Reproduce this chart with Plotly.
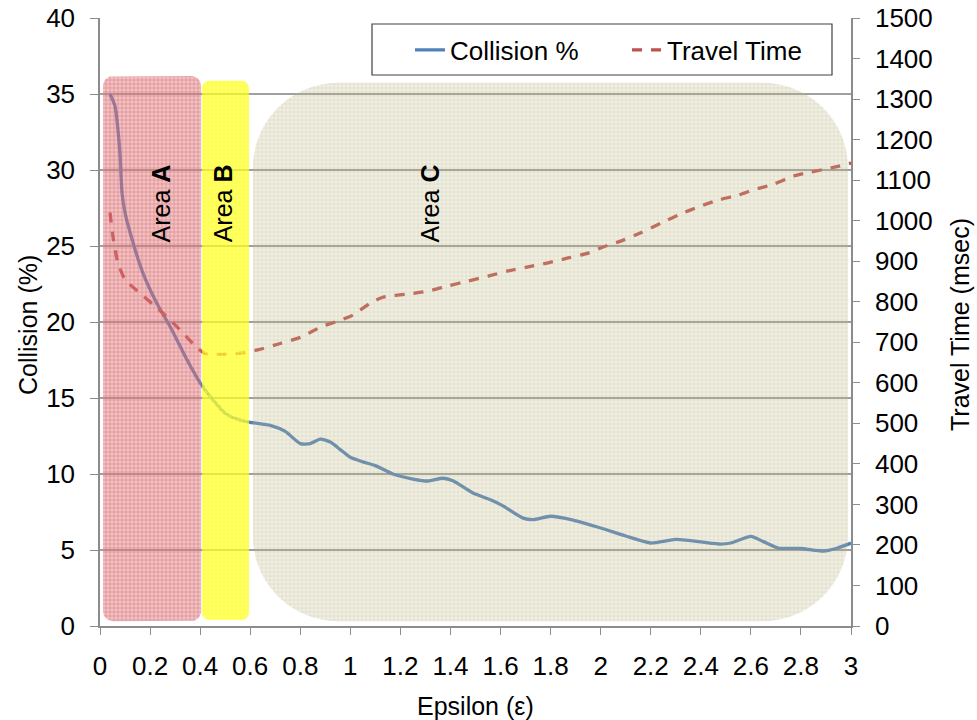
import numpy as np
import plotly.graph_objects as go

# ---------------- data ----------------
eps_collision = [0.04, 0.06, 0.072, 0.08, 0.088, 0.1, 0.12, 0.172, 0.228, 0.28, 0.348, 0.4,
                 0.45, 0.5, 0.55, 0.6, 0.68, 0.74, 0.8, 0.84, 0.88, 0.92, 0.96, 1.0, 1.05,
                 1.1, 1.17, 1.25, 1.31, 1.37, 1.41, 1.49, 1.56, 1.61, 1.69, 1.73, 1.8, 1.89,
                 2.0, 2.1, 2.2, 2.3, 2.4, 2.48, 2.52, 2.6, 2.65, 2.71, 2.8, 2.89, 2.94, 3.0]
collision = [35.0, 34.2, 32.6, 31.0, 28.5, 27.2, 25.9, 23.2, 21.2, 19.7, 17.5, 16.0,
             14.9, 14.0, 13.6, 13.4, 13.2, 12.8, 12.0, 12.0, 12.3, 12.1, 11.6, 11.1, 10.8,
             10.55, 10.0, 9.67, 9.54, 9.72, 9.55, 8.75, 8.3, 7.9, 7.1, 7.0, 7.22, 6.97,
             6.45, 5.92, 5.46, 5.7, 5.53, 5.39, 5.46, 5.9, 5.55, 5.13, 5.1, 4.93, 5.1, 5.45]

eps_travel = [0.04, 0.052, 0.072, 0.1, 0.165, 0.228, 0.308, 0.388, 0.42, 0.47, 0.56, 0.63,
              0.72, 0.8, 0.89, 0.95, 1.01, 1.08, 1.13, 1.23, 1.31, 1.39, 1.47, 1.55, 1.63,
              1.71, 1.79, 1.87, 1.95, 2.01, 2.09, 2.16, 2.24, 2.31, 2.39, 2.47, 2.55, 2.61,
              2.69, 2.77, 2.84, 2.92, 3.0]
travel_time = [1020, 960, 895, 855, 818, 785, 738, 686, 672, 670, 673, 681,
               697, 712, 740, 752, 767, 797, 811, 819, 826, 839, 851, 863, 876,
               886, 896, 908, 920, 935, 952, 970, 994, 1014, 1034, 1051, 1063, 1076,
               1090, 1110, 1120, 1130, 1142]

x_tick_vals = [0, 0.2, 0.4, 0.6, 0.8, 1, 1.2, 1.4, 1.6, 1.8, 2, 2.2, 2.4, 2.6, 2.8, 3]
x_tick_text = ["0", "0.2", "0.4", "0.6", "0.8", "1", "1.2", "1.4", "1.6", "1.8", "2",
               "2.2", "2.4", "2.6", "2.8", "3"]

# shaded regions: name, x-start, x-end (epsilon), bottom/top (msec axis)
area_names = ["A", "B", "C"]
area_x0 = [0.012, 0.408, 0.611]
area_x1 = [0.404, 0.595, 2.988]
area_y0 = [12, 15, 12]
area_y1 = [1357, 1345, 1340]
area_label_x = [0.244, 0.495, 1.318]
area_label_y = [27.8, 27.8, 27.8]

# ---------------- layout geometry ----------------
W, H = 977, 720
ML, MR, MT, MB = 100, 126, 18, 94
PW, PH = W - ML - MR, H - MT - MB
SX = PW / 3.0          # px per epsilon unit
SY2 = PH / 1500.0      # px per msec

FONT = "Liberation Sans, Arial, sans-serif"
FS = 26
radii = [10, 7, 85]
area_bg = ["rgba(225,125,130,0.48)", "rgba(255,255,0,0.72)", "rgba(195,186,140,0.24)"]
area_fg = ["rgba(195,55,65,0.42)", "rgba(255,255,200,0.55)", "rgba(165,155,100,0.28)"]


def rounded_rect(x0, x1, y0, y1, r):
    rx, ry = r / SX, r / SY2
    xs, ys = [], []
    corners = [(x1 - rx, y1 - ry, 0, 90), (x0 + rx, y1 - ry, 90, 180),
               (x0 + rx, y0 + ry, 180, 270), (x1 - rx, y0 + ry, 270, 360)]
    for cx, cy, a0, a1 in corners:
        t = np.radians(np.linspace(a0, a1, 16))
        xs.extend(cx + rx * np.cos(t))
        ys.extend(cy + ry * np.sin(t))
    xs.append(xs[0])
    ys.append(ys[0])
    return xs, ys


def px_x(px):
    return (px - ML) / PW


def px_y(py):
    return (H - MB - py) / PH


fig = go.Figure()

fig.add_trace(go.Scatter(
    x=eps_collision, y=collision, name="Collision %", mode="lines",
    line=dict(color="#4F81BD", width=3.3, shape="spline", smoothing=0.6),
    yaxis="y"))
fig.add_trace(go.Scatter(
    x=eps_travel, y=travel_time, name="Travel Time", mode="lines",
    line=dict(color="#C0504D", width=3.3, dash="10px,9px", shape="spline", smoothing=0.6),
    yaxis="y2"))

for i, nm in enumerate(area_names):
    xs, ys = rounded_rect(area_x0[i], area_x1[i], area_y0[i], area_y1[i], radii[i])
    fig.add_trace(go.Scatter(
        x=xs, y=ys, mode="lines", fill="toself", line=dict(width=0),
        fillcolor=area_bg[i],
        fillpattern=dict(shape="+", size=4, solidity=0.3, fgcolor=area_fg[i],
                         bgcolor=area_bg[i], fillmode="replace"),
        hoverinfo="skip", showlegend=False, yaxis="y2"))

annotations = []
for i, nm in enumerate(area_names):
    annotations.append(dict(
        x=area_label_x[i], y=area_label_y[i], xref="x", yref="y",
        xanchor="center", yanchor="middle",
        text="Area <b>%s</b>" % nm, textangle=-90, showarrow=False,
        font=dict(family=FONT, size=25, color="black")))

annotations += [
    dict(x=px_x(28), y=px_y(325), xref="paper", yref="paper",
         xanchor="center", yanchor="middle",
         text="Collision (%)", textangle=-90, showarrow=False,
         font=dict(family=FONT, size=25, color="black")),
    dict(x=px_x(960), y=px_y(325), xref="paper", yref="paper",
         xanchor="center", yanchor="middle",
         text="Travel Time (msec)", textangle=-90, showarrow=False,
         font=dict(family=FONT, size=25, color="black")),
    dict(x=px_x(475), y=px_y(706), xref="paper", yref="paper",
         xanchor="center", yanchor="middle",
         text="Epsilon (ε)", showarrow=False,
         font=dict(family=FONT, size=25, color="black")),
]

legend_box = dict(type="rect", xref="paper", yref="paper",
                  x0=px_x(372), x1=px_x(832), y0=px_y(75), y1=px_y(24),
                  fillcolor="white", line=dict(color="#404040", width=1.2),
                  layer="above")

axis_col = "#8C8C8C"
fig.update_layout(
    width=W, height=H, autosize=False,
    margin=dict(l=ML, r=MR, t=MT, b=MB, pad=0, autoexpand=False),
    paper_bgcolor="white", plot_bgcolor="white",
    font=dict(family=FONT, size=FS, color="black"),
    xaxis=dict(range=[0, 3], tickvals=x_tick_vals, ticktext=x_tick_text,
               showgrid=False, zeroline=False, showline=True, linecolor=axis_col,
               linewidth=1.5, ticks="outside", ticklen=7, tickcolor=axis_col,
               ticklabelstandoff=9, tickfont=dict(size=FS), automargin=False),
    yaxis=dict(range=[0, 40], dtick=5, showgrid=True, gridcolor="#A0A0A0",
               gridwidth=1.5, zeroline=False, showline=True, linecolor=axis_col,
               linewidth=1.5, ticks="outside", ticklen=8, tickcolor=axis_col,
               ticklabelstandoff=10, tickfont=dict(size=FS), automargin=False),
    yaxis2=dict(range=[0, 1500], dtick=100, overlaying="y", side="right",
                showgrid=False, zeroline=False, showline=True, linecolor=axis_col,
                linewidth=1.5, ticks="outside", ticklen=7, tickcolor=axis_col,
                ticklabelstandoff=10, tickfont=dict(size=FS), automargin=False),
    legend=dict(orientation="h", x=px_x(410), y=px_y(50),
                xanchor="left", yanchor="middle", bgcolor="rgba(0,0,0,0)",
                borderwidth=0,
                font=dict(family=FONT, size=FS, color="black"),
                entrywidth=172, tracegroupgap=0),
    shapes=[legend_box],
    annotations=annotations,
    showlegend=True,
)

fig.write_html("out.html", config={"displayModeBar": False},
               post_script="document.body.style.margin='0';"
                           "document.body.style.overflow='hidden';")
